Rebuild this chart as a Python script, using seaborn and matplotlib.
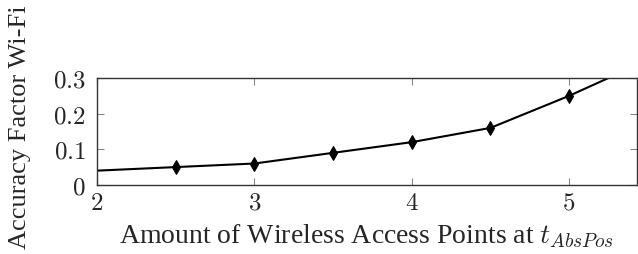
import numpy as np
import pandas as pd
import seaborn as sns
import matplotlib
matplotlib.use("Agg")
import matplotlib.pyplot as plt

# values
access_points = [1.5, 2.5, 3.0, 3.5, 4.0, 4.5, 5.0, 5.5]
accuracy_factor = [0.03, 0.05, 0.06, 0.09, 0.12, 0.16, 0.25, 0.35]
x_ticks = [2, 3, 4, 5]
y_ticks = [0, 0.1, 0.2, 0.3]
y_tick_labels = ["0", "0.1", "0.2", "0.3"]

df = pd.DataFrame({"ap": access_points, "acc": accuracy_factor})

sns.set_style("ticks")
plt.rcParams["font.family"] = ["Liberation Serif", "DejaVu Serif"]
plt.rcParams["mathtext.fontset"] = "cm"

fig = plt.figure(figsize=(6.38, 2.55), dpi=100)
ax = fig.add_axes([0.152, 0.271, 0.846, 0.419])

sns.lineplot(data=df, x="ap", y="acc", ax=ax, color="black", linewidth=1.5,
             marker="d", markersize=7.5, markeredgecolor="black", clip_on=True)

ax.set_xlim(2, 5.43)
ax.set_ylim(0, 0.3)
ax.set_xticks(x_ticks)
ax.set_xticklabels([f"${t}$" for t in x_ticks])
ax.set_yticks(y_ticks)
ax.set_yticklabels([f"${t}$" for t in y_tick_labels])
ax.tick_params(direction="in", top=True, right=True, length=5, width=0.8,
               color="#888888", labelsize=18)
ax.tick_params(axis="x", pad=5)
ax.tick_params(axis="y", pad=8)
for s in ax.spines.values():
    s.set_linewidth(1.0)
    s.set_color("#333333")

ax.set_xlabel(r"Amount of Wireless Access Points at $t_{AbsPos}$", fontsize=20, labelpad=5)
ax.set_ylabel("Accuracy Factor Wi-Fi", fontsize=19)
ax.yaxis.set_label_coords(-0.122, 0.55)

fig.savefig("out.png", dpi=100)
